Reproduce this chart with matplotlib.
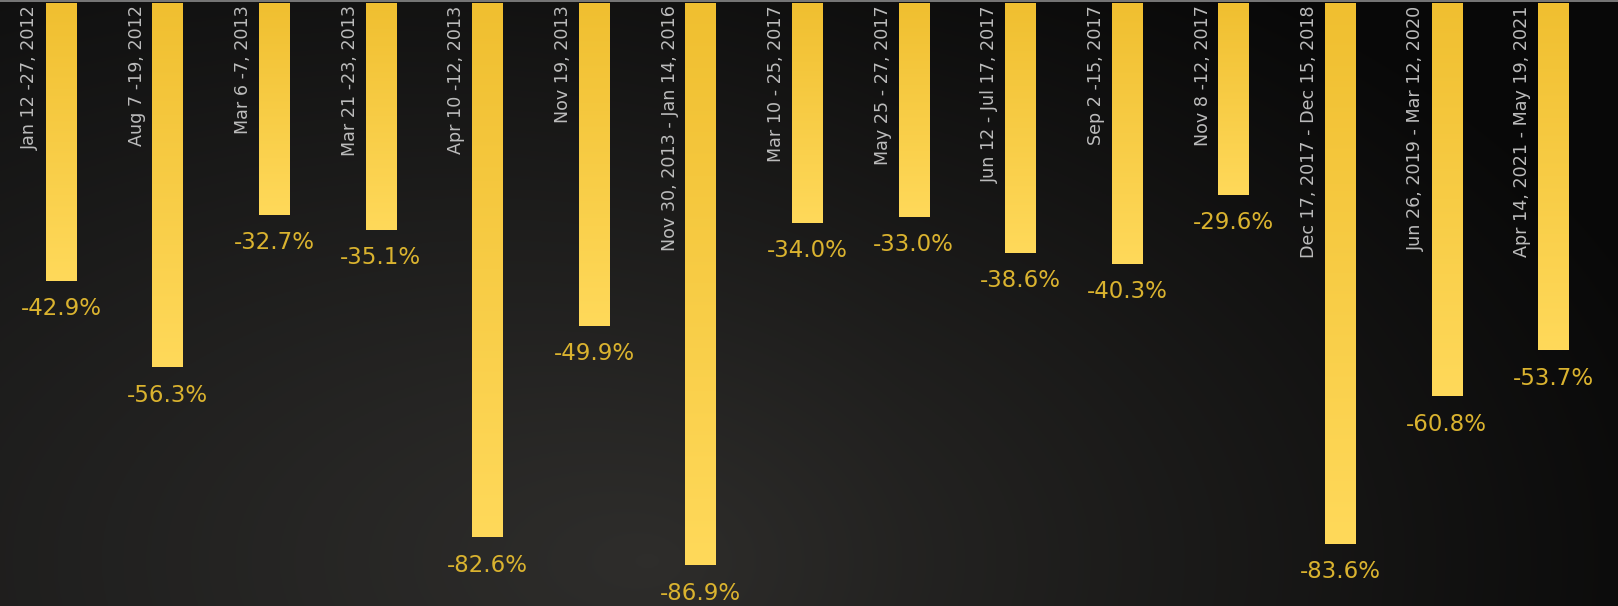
import numpy as np
import matplotlib
matplotlib.use("Agg")
import matplotlib.pyplot as plt
from matplotlib.colors import LinearSegmentedColormap

categories = [
    "Jan 12 -27, 2012", "Aug 7 -19, 2012", "Mar 6 -7, 2013", "Mar 21 -23, 2013",
    "Apr 10 -12, 2013", "Nov 19, 2013", "Nov 30, 2013 - Jan 14, 2016",
    "Mar 10 - 25, 2017", "May 25 - 27, 2017", "Jun 12 - Jul 17, 2017",
    "Sep 2 -15, 2017", "Nov 8 -12, 2017", "Dec 17, 2017 - Dec 15, 2018",
    "Jun 26, 2019 - Mar 12, 2020", "Apr 14, 2021 - May 19, 2021",
]
drawdowns = [-42.9, -56.3, -32.7, -35.1, -82.6, -49.9, -86.9, -34.0, -33.0,
             -38.6, -40.3, -29.6, -83.6, -60.8, -53.7]

W, H = 1618, 606
fig = plt.figure(figsize=(W / 100, H / 100), dpi=100)
ax = fig.add_axes([0, 0, 1, 1])

xmin, xmax = -0.572, 14.606
ymin, ymax = -93.2, 0.464
ax.set_xlim(xmin, xmax)
ax.set_ylim(ymin, ymax)
ax.axis("off")

# background radial gradient
yy, xx = np.mgrid[0:H:2, 0:W:2]
d = np.sqrt(((xx - 650) / 1100.0) ** 2 + ((yy - 560) / 700.0) ** 2)
d = np.clip(d, 0, 1)
c_in = np.array([0x2c, 0x2b, 0x29]) / 255
c_out = np.array([0x08, 0x08, 0x08]) / 255
bg = c_in[None, None, :] * (1 - d[..., None]) + c_out[None, None, :] * d[..., None]
lf = np.clip(1 - xx / 900.0, 0, 1)[..., None] * 0.06
bg = np.clip(bg + lf * np.array([0.55, 0.55, 0.55]), 0, 1)
ax.imshow(bg, extent=(xmin, xmax, ymin, ymax), aspect="auto", zorder=0)

# top thin line
ax.axhline(0.3, color="#8a8a8a", lw=1.2, zorder=1)

bar_cmap = LinearSegmentedColormap.from_list("bar", ["#f0bf30", "#ffd95a"])
grad = np.linspace(0, 1, 256).reshape(-1, 1)
width = 0.286
x = np.arange(len(categories))
bars = ax.bar(x, drawdowns, width=width, color="#f7c940", zorder=2)
for b, v in zip(bars, drawdowns):
    x0 = b.get_x()
    im = ax.imshow(grad, cmap=bar_cmap, extent=(x0, x0 + width, v, 0),
                   aspect="auto", zorder=3, origin="upper")
    im.set_clip_path(b)

for i, (c, v) in enumerate(zip(categories, drawdowns)):
    ax.text(i - 0.29, -0.35, c, rotation=90, ha="center", va="top",
            color="#bcbcbc", fontsize=12.6, family="DejaVu Sans", zorder=4)
    ax.text(i, v - 4.3, f"{v:.1f}%", ha="center", va="center",
            color="#dab32f", fontsize=16.5, family="DejaVu Sans", zorder=4)

fig.savefig("out.png", dpi=100, facecolor="black")
